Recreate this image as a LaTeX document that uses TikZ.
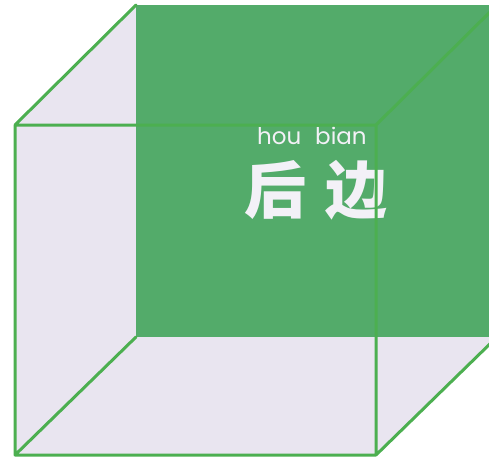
\documentclass[tikz,border=0pt]{standalone}
\usepackage{fontspec}
\newfontfamily\hanzifont{Noto Sans CJK SC}
\newfontfamily\pinyinfont{Poppins}
\definecolor{backgreen}{RGB}{83,171,106}
\definecolor{edgegreen}{RGB}{76,175,80}
\definecolor{sidelav}{RGB}{233,229,240}
\definecolor{textwhite}{RGB}{243,241,247}
\tikzset{
  cubeedge/.style={draw=edgegreen,line width=3pt,line join=round,line cap=round},
  hanzi/.style={text=textwhite,font=\hanzifont\bfseries\fontsize{62}{62}\selectfont,inner sep=0pt},
  pinyin/.style={text=textwhite,font=\pinyinfont\fontsize{23}{23}\selectfont,inner sep=0pt}
}

\begin{document}
\begin{tikzpicture}[x=1pt,y=-1pt]
	\clip (0,0) rectangle (489,461);
	\coordinate (f1) at (15,125);
	\coordinate (f2) at (376,125);
	\coordinate (f3) at (376,455);
	\coordinate (f4) at (15,455);
	\coordinate (b1) at (136,5);
	\coordinate (b2) at (497,5);
	\coordinate (b3) at (497,337);
	\coordinate (b4) at (136,337);
	\fill[sidelav] (f1) -- (b1) -- (b2) -- (b3) -- (f3) -- (f4) -- cycle;
	\fill[backgreen] (b1) rectangle (b3);
	\node[pinyin,anchor=base west] (hou) at (257,144) {hou};
	\node[pinyin,anchor=base west] (bian) at (315,144) {bian};
	\node[hanzi,anchor=west] (hz) at (244,190) {后\hspace{19pt}边};
	\path[cubeedge]
	(f1) -- (b1) (f2) -- (b2) (f3) -- (b3) (f4) -- (b4)
	(f1) rectangle (f3);
\end{tikzpicture}
\end{document}
